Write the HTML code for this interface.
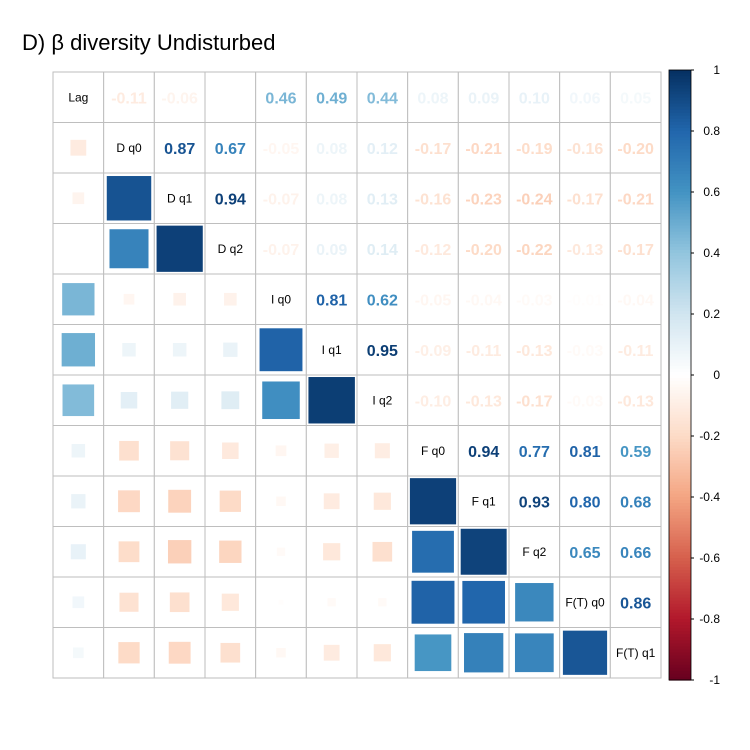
<!DOCTYPE html>
<html><head><meta charset="utf-8"><style>body{margin:0;background:#fff}svg{display:block}</style></head>
<body>
<svg id="c" width="750" height="750" xmlns="http://www.w3.org/2000/svg">
<text x="22" y="50" font-family="Liberation Sans, sans-serif" font-size="22" fill="#000">D) β diversity Undisturbed</text>
</svg>
<script>
const labels = ["Lag","D q0","D q1","D q2","I q0","I q1","I q2","F q0","F q1","F q2","F(T) q0","F(T) q1"];
const upperRows = [
 [-0.11,-0.06,0.00,0.46,0.49,0.44,0.08,0.09,0.10,0.06,0.05],
 [0.87,0.67,-0.05,0.08,0.12,-0.17,-0.21,-0.19,-0.16,-0.20],
 [0.94,-0.07,0.08,0.13,-0.16,-0.23,-0.24,-0.17,-0.21],
 [-0.07,0.09,0.14,-0.12,-0.20,-0.22,-0.13,-0.17],
 [0.81,0.62,-0.05,-0.04,-0.03,-0.01,-0.04],
 [0.95,-0.09,-0.11,-0.13,-0.03,-0.11],
 [-0.10,-0.13,-0.17,-0.03,-0.13],
 [0.94,0.77,0.81,0.59],
 [0.93,0.80,0.68],
 [0.65,0.66],
 [0.86]
];
const barTicks = [1,0.8,0.6,0.4,0.2,0,-0.2,-0.4,-0.6,-0.8,-1];
const stops = ["#67001F","#B2182B","#D6604D","#F4A582","#FDDBC7","#FFFFFF","#D1E5F0","#92C5DE","#4393C3","#2166AC","#053061"];
const NS="http://www.w3.org/2000/svg", svg=document.getElementById('c');
const n=labels.length, x0=53, y0=72, cw=(661-53)/n, ch=(678-72)/n;
function hex(h){return [1,3,5].map(i=>parseInt(h.substr(i,2),16));}
function col(v){const t=(v+1)/2*10;const i=Math.min(9,Math.floor(t)),f=t-i;const a=hex(stops[i]),b=hex(stops[i+1]);
 return "rgb("+a.map((c,k)=>Math.round(c+(b[k]-c)*f)).join(",")+")";}
function el(t,a){const e=document.createElementNS(NS,t);for(const k in a)e.setAttribute(k,a[k]);svg.appendChild(e);return e;}
function val(i,j){if(i===j)return 1;const a=Math.min(i,j),b=Math.max(i,j);return upperRows[a][b-a-1];}
const X=j=>x0+j*cw, Y=i=>y0+i*ch;
for(let i=0;i<n;i++)for(let j=0;j<n;j++){
 const v=val(i,j);
 const cell=el('rect',{x:X(j),y:Y(i),width:cw,height:ch,fill:'#fff',stroke:'#bebebe','stroke-width':1});
 
 
 if(i===j){
  const t=el('text',{x:X(j)+cw/2,y:Y(i)+ch/2+4,'text-anchor':'middle','font-family':'Liberation Sans, sans-serif','font-size':12,fill:'#000'});
  t.textContent=labels[i];
  
  
 } else if(j>i){
  const t=el('text',{x:X(j)+cw/2,y:Y(i)+ch/2+6,'text-anchor':'middle','font-family':'Liberation Sans, sans-serif','font-size':16,'font-weight':'bold',fill:col(v)});
  t.textContent=v===0?'':v.toFixed(2);
  
  
 } else {
  const s=Math.sqrt(Math.abs(v))*(cw-3);
  const r=el('rect',{x:X(j)+cw/2-s/2,y:Y(i)+ch/2-s/2,width:s,height:s,fill:col(v)});
  
  
 }
}
// colorbar
const bx=669,bw=22,by0=70,by1=680;
for(let k=0;k<200;k++){
 const v=1-2*(k+0.5)/200;
 const r=el('rect',{x:bx,y:by0+k*(by1-by0)/200,width:bw,height:(by1-by0)/200+0.6,fill:col(v)});
 
 
}
const fr=el('rect',{x:bx,y:by0,width:bw,height:by1-by0,fill:'none',stroke:'#000','stroke-width':0.8});


barTicks.forEach(v=>{
 const y=by0+(1-v)/2*(by1-by0);
 const l=el('line',{x1:bx+bw,x2:bx+bw+3,y1:y,y2:y,stroke:'#000'});
 
 
 const t=el('text',{x:720,y:y+4,'text-anchor':'end','font-family':'Liberation Sans, sans-serif','font-size':12,fill:'#000'});
 t.textContent=String(v);
 
 
});
</script>
</body></html>
